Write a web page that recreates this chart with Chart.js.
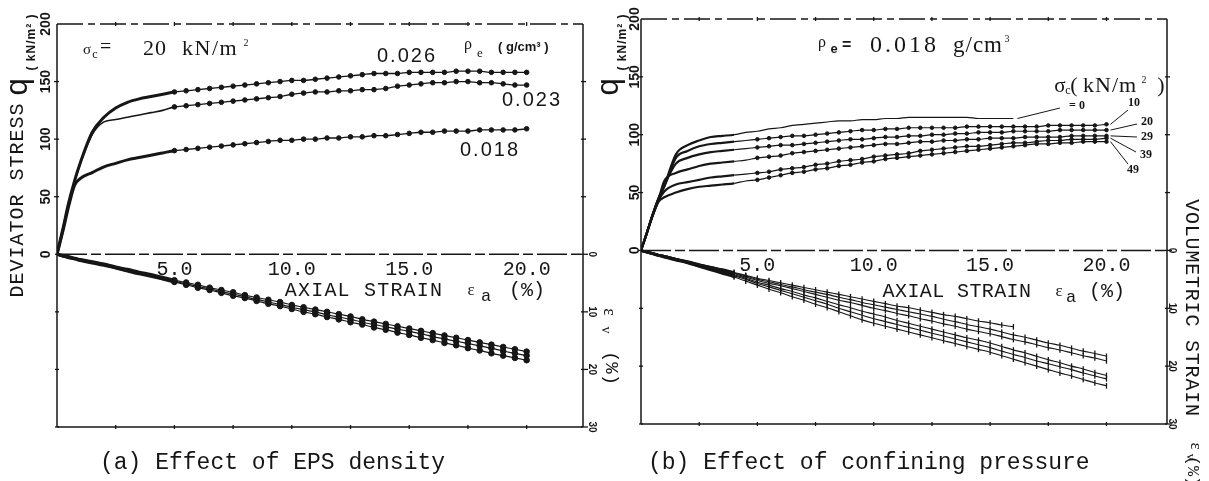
<!DOCTYPE html>
<html>
<head>
<meta charset="utf-8">
<script src="https://cdn.jsdelivr.net/npm/chart.js@4.4.1/dist/chart.umd.min.js"></script>
<style>
  html, body { margin: 0; padding: 0; background: #fff; }
  #wrap { position: relative; width: 1209px; height: 481px; overflow: hidden; background: #fff; }
  #wrap canvas { position: absolute; left: 0; top: 0; }
</style>
</head>
<body>
<div id="wrap">
  <canvas id="chartA" width="1209" height="481"></canvas>
  <canvas id="chartB" width="1209" height="481"></canvas>
</div>
<script>
const INK = '#161616';
const MONO = '"Liberation Mono", "DejaVu Sans Mono", monospace';
const SERIF = '"Liberation Serif", "DejaVu Serif", serif';
const SANS = '"Liberation Sans", "DejaVu Sans", sans-serif';

// axial strain (%) shared by every curve
const strain = [0, 0.25, 0.5, 0.75, 1, 1.5, 2, 2.5, 3, 3.5, 4, 4.5, 5, 5.5, 6, 6.5, 7, 7.5, 8, 8.5, 9, 9.5,
  10, 10.5, 11, 11.5, 12, 12.5, 13, 13.5, 14, 14.5, 15, 15.5, 16, 16.5, 17, 17.5, 18, 18.5, 19, 19.5, 20];
const qTicks = [0, 50, 100, 150, 200];
const evTicks = [0, 10, 20, 30];

// (a) effect of EPS density, sigma_c = 20 kN/m2
const densityLabels = ['0.026', '0.023', '0.018'];
const qA026 = [0, 22, 45, 64, 80, 106, 119, 127, 132, 135, 137, 139, 141, 142, 143, 144, 145, 146, 147, 148, 149, 150,
  151, 151, 152, 153, 154, 155, 156, 157, 157, 157, 158, 158, 158, 158, 159, 159, 159, 158, 158, 158, 158];
const qA023 = [0, 22, 44, 63, 79, 104, 115, 117, 119, 121, 123, 125, 128, 129, 130, 131, 132, 133, 134, 135, 136, 137,
  139, 140, 141, 141, 142, 142, 143, 143, 144, 146, 147, 148, 149, 149, 150, 150, 149, 149, 148, 147, 147];
const qA018 = [0, 20, 42, 60, 66, 71, 76, 79, 82, 84, 86, 88, 90, 91, 92, 93, 94, 95, 96, 97, 98, 99,
  99, 100, 100, 101, 101, 102, 102, 103, 103, 104, 105, 106, 106, 107, 107, 107, 108, 108, 108, 108, 109];
const evA026 = [0, 0.2, 0.4, 0.7, 0.9, 1.3, 1.7, 2.2, 2.6, 3.1, 3.5, 4.0, 4.5, 4.9, 5.3, 5.8, 6.2, 6.6, 7.1, 7.5, 7.9, 8.3,
  8.8, 9.2, 9.6, 10.0, 10.4, 10.8, 11.3, 11.7, 12.1, 12.5, 12.9, 13.3, 13.7, 14.1, 14.5, 14.9, 15.3, 15.7, 16.1, 16.5, 16.9];
const evA023 = [0, 0.3, 0.5, 0.8, 1.0, 1.4, 1.8, 2.3, 2.8, 3.2, 3.7, 4.2, 4.7, 5.1, 5.6, 6.0, 6.5, 6.9, 7.4, 7.8, 8.3, 8.7,
  9.2, 9.6, 10.0, 10.5, 10.9, 11.3, 11.8, 12.2, 12.6, 13.0, 13.4, 13.8, 14.3, 14.7, 15.1, 15.5, 15.9, 16.3, 16.8, 17.2, 17.6];
const evA018 = [0, 0.3, 0.6, 0.8, 1.1, 1.5, 1.9, 2.4, 2.9, 3.4, 3.8, 4.3, 4.8, 5.3, 5.8, 6.2, 6.7, 7.2, 7.6, 8.1, 8.6, 9.0,
  9.5, 10.0, 10.4, 10.9, 11.3, 11.8, 12.2, 12.7, 13.1, 13.6, 14.0, 14.5, 14.9, 15.4, 15.8, 16.3, 16.7, 17.2, 17.6, 18.0, 18.4];

// (b) effect of confining pressure, rho_e = 0.018 g/cm3
const pressureLabels = ['= 0', '10', '20', '29', '39', '49'];
const qB0 = [0, 15, 31, 45, 56, 83, 91, 95, 98, 99, 100, 102, 103, 105, 106, 108, 109, 110, 111, 112, 112, 113,
  113, 114, 114, 115, 115, 115, 115, 115, 115, 114, 114, 114, 114, null, null, null, null, null, null, null, null];
const qB10 = [0, 15, 31, 45, 55, 80, 86, 90, 92, 93, 94, 95, 96, 97, 98, 99, 99, 100, 101, 102, 103, 104,
  104, 105, 105, 106, 106, 106, 106, 106, 107, 107, 107, 107, 107, 107, 107, 108, 108, 108, 108, 108, 109];
const qB20 = [0, 15, 31, 44, 56, 75, 80, 83, 85, 86, 87, 88, 89, 90, 91, 91, 92, 93, 94, 95, 96, 96,
  97, 98, 98, 99, 99, 100, 100, 101, 101, 102, 102, 102, 103, 103, 103, 103, 104, 104, 104, 104, 104];
const qB29 = [0, 15, 30, 44, 60, 67, 70, 73, 75, 76, 77, 78, 80, 81, 82, 84, 85, 86, 87, 88, 89, 90,
  91, 92, 92, 93, 94, 94, 95, 95, 96, 96, 97, 97, 97, 98, 98, 98, 98, 99, 99, 99, 99];
const qB39 = [0, 15, 30, 43, 51, 57, 59, 61, 63, 64, 65, 66, 67, 68, 70, 71, 72, 74, 75, 77, 78, 79,
  81, 82, 83, 84, 86, 87, 88, 89, 90, 90, 91, 92, 93, 93, 94, 95, 95, 96, 96, 96, 97];
const qB49 = [0, 15, 30, 42, 46, 50, 53, 55, 56, 57, 58, 60, 61, 63, 65, 67, 68, 70, 71, 73, 74, 76,
  77, 79, 80, 81, 82, 83, 84, 85, 86, 87, 88, 89, 90, 91, 92, 92, 93, 93, 94, 94, 94];
const evB0 = [0, 0.3, 0.5, 0.8, 1.0, 1.5, 1.9, 2.4, 2.9, 3.3, 3.8, 4.3, 4.8, 5.2, 5.6, 6.0, 6.4, 6.8, 7.2, 7.6, 8.0, 8.4,
  8.8, 9.2, 9.6, 9.9, 10.3, 10.7, 11.1, 11.4, 11.8, 12.2, 12.5, 12.9, 13.2, null, null, null, null, null, null, null, null];
const evB10 = [0, 0.3, 0.5, 0.8, 1.0, 1.5, 2.0, 2.5, 2.9, 3.4, 3.9, 4.4, 5.0, 5.4, 5.9, 6.3, 6.8, 7.2, 7.6, 8.1, 8.5, 9.0,
  9.4, 9.8, 10.2, 10.6, 11.0, 11.4, 11.9, 12.3, 12.8, 13.2, 13.6, 14.1, 14.6, 15.0, 15.5, 16.0, 16.4, 16.9, 17.4, 17.8, 18.3];
const evB20 = [0, 0.3, 0.5, 0.8, 1.0, 1.5, 2.0, 2.5, 3.0, 3.5, 4.0, 4.6, 5.2, 5.7, 6.1, 6.6, 7.1, 7.6, 8.1, 8.6, 9.0, 9.5,
  10.0, 10.4, 10.9, 11.3, 11.8, 12.2, 12.7, 13.1, 13.6, 14.0, 14.4, 14.9, 15.4, 15.8, 16.3, 16.8, 17.2, 17.7, 18.2, 18.6, 19.1];
const evB29 = [0, 0.3, 0.6, 0.8, 1.1, 1.6, 2.1, 2.6, 3.1, 3.6, 4.2, 4.8, 5.5, 6.0, 6.6, 7.1, 7.7, 8.2, 8.8, 9.4, 9.9, 10.5,
  11.0, 11.5, 12.1, 12.6, 13.1, 13.6, 14.1, 14.6, 15.1, 15.5, 16.0, 16.6, 17.2, 17.7, 18.3, 18.9, 19.4, 20.0, 20.5, 21.1, 21.6];
const evB39 = [0, 0.3, 0.6, 0.9, 1.1, 1.6, 2.1, 2.7, 3.2, 3.8, 4.4, 5.0, 5.7, 6.3, 6.9, 7.5, 8.1, 8.7, 9.3, 10.0, 10.6, 11.2,
  11.8, 12.3, 12.8, 13.3, 13.8, 14.3, 14.8, 15.3, 15.8, 16.3, 16.8, 17.4, 18.0, 18.5, 19.1, 19.6, 20.1, 20.6, 21.2, 21.7, 22.2];
const evB49 = [0, 0.3, 0.6, 0.9, 1.2, 1.7, 2.2, 2.8, 3.4, 4.0, 4.6, 5.3, 6.0, 6.7, 7.3, 8.0, 8.6, 9.3, 9.9, 10.6, 11.3, 12.0,
  12.6, 13.1, 13.6, 14.1, 14.6, 15.1, 15.6, 16.1, 16.6, 17.1, 17.6, 18.2, 18.8, 19.4, 20.0, 20.6, 21.2, 21.7, 22.3, 22.9, 23.4];

function pts(vals) {
  return strain.map((x, i) => ({ x: x, y: vals[i] })).filter(p => p.y !== null);
}

// one black curve; thick up to `thick`, markers from `from` on
function curve(vals, axis, o) {
  return {
    data: pts(vals),
    yAxisID: axis,
    borderColor: INK,
    backgroundColor: INK,
    pointBorderColor: INK,
    pointBackgroundColor: INK,
    cubicInterpolationMode: 'monotone',
    pointStyle: o.style || 'circle',
    pointRotation: o.rot || 0,
    pointBorderWidth: o.pbw || 1,
    pointRadius: c => (strain[c.dataIndex] >= o.from ? o.r : 0),
    borderWidth: o.bw,
    segment: { borderWidth: c => (strain[c.p1DataIndex] <= o.thick ? o.tw : o.bw) }
  };
}

function txt(ctx, t) {
  ctx.save();
  ctx.translate(t.x, t.y);
  if (t.r) ctx.rotate(t.r * Math.PI / 180);
  ctx.font = t.f;
  ctx.fillStyle = INK;
  ctx.textAlign = t.a || 'center';
  ctx.textBaseline = t.b || 'middle';
  if ('letterSpacing' in ctx) ctx.letterSpacing = (t.ls || 0) + 'px';
  ctx.fillText(t.s, 0, 0);
  ctx.restore();
}

function seg(ctx, x1, y1, x2, y2) {
  ctx.beginPath();
  ctx.moveTo(x1, y1);
  ctx.lineTo(x2, y2);
  ctx.stroke();
}

// frame, zero line, small tick marks, rotated tick labels and annotations
function decor(p) {
  return {
    id: 'decor',
    beforeDatasetsDraw(chart) {
      const ctx = chart.ctx;
      const { left, right, top, bottom } = chart.chartArea;
      const sx = chart.scales.x, sy = chart.scales.y, sv = chart.scales.y2;
      const y0 = sy.getPixelForValue(0);
      ctx.save();
      ctx.strokeStyle = INK;
      ctx.lineWidth = 1.5;
      seg(ctx, left, top, left, bottom);
      seg(ctx, right, top, right, bottom);
      seg(ctx, left, bottom, right, bottom);
      ctx.setLineDash([26, 5, 7, 5]);
      seg(ctx, left, top, right, top);
      ctx.setLineDash([30, 4, 10, 4]);
      seg(ctx, left, y0, right, y0);
      ctx.setLineDash([]);
      ctx.lineWidth = 1.3;
      for (let v = 2.5; v <= 20; v += 2.5) {
        const px = sx.getPixelForValue(v);
        seg(ctx, px, top - 2, px, top + 2);
        seg(ctx, px, bottom - 2, px, bottom + 2);
      }
      qTicks.slice(1, 4).forEach(v => {
        const py = sy.getPixelForValue(v);
        seg(ctx, left - 3, py, left + 2, py);
        seg(ctx, right - 2, py, right + 3, py);
      });
      evTicks.forEach(v => {
        const py = sv.getPixelForValue(v);
        seg(ctx, left - 2, py, left + 2, py);
        seg(ctx, right - 2, py, right + 5, py);
      });
      ctx.restore();
    },
    afterDraw(chart) {
      const ctx = chart.ctx;
      const sy = chart.scales.y, sv = chart.scales.y2;
      qTicks.forEach(v => txt(ctx, { s: String(v), x: p.qLabX, y: sy.getPixelForValue(v), f: 'bold 14px ' + SANS, r: -90 }));
      evTicks.forEach(v => txt(ctx, { s: String(v), x: p.evLabX, y: sv.getPixelForValue(v), f: 'bold 10px ' + SANS, r: 90 }));
      p.texts.forEach(t => txt(ctx, t));
      if (p.leaders) {
        ctx.save();
        ctx.strokeStyle = INK;
        ctx.lineWidth = 1;
        p.leaders.forEach(l => {
          const pts = chart.getDatasetMeta(l.ds).data;
          const last = pts[pts.length - 1];
          seg(ctx, last.x + 4, last.y, l.x, l.y);
        });
        ctx.restore();
      }
    }
  };
}

function scales(pad, xmax, leftW, rightW) {
  return {
    x: {
      type: 'linear', min: 0, max: xmax,
      position: { y: 0 },
      grid: { display: false, drawTicks: false },
      border: { display: false },
      ticks: {
        stepSize: 5, includeBounds: false, autoSkip: false, maxRotation: 0, padding: pad,
        color: INK, font: { family: MONO, size: 20 },
        callback: v => (v === 0 ? '' : v.toFixed(1))
      }
    },
    y: {
      type: 'linear', position: 'left', min: -150, max: 200,
      grid: { display: false }, border: { display: false }, ticks: { display: false },
      afterBuildTicks: s => { s.ticks = qTicks.map(v => ({ value: v })); },
      afterFit: s => { s.width = leftW; }
    },
    y2: {
      type: 'linear', position: 'right', min: -40, max: 30, reverse: true,
      grid: { display: false }, border: { display: false }, ticks: { display: false },
      afterBuildTicks: s => { s.ticks = evTicks.map(v => ({ value: v })); },
      afterFit: s => { s.width = rightW; }
    }
  };
}

const base = {
  responsive: false,
  animation: false,
  devicePixelRatio: 1,
  events: [],
  plugins: { legend: { display: false }, tooltip: { enabled: false } }
};

const qStyle = { from: 5, r: 2.3, bw: 1.3, tw: 3, thick: 5 };
const evStyleA = { from: 5, r: 2.8, bw: 1.2, tw: 3, thick: 5 };

new Chart(document.getElementById('chartA'), {
  type: 'line',
  data: {
    datasets: [
      curve(qA026, 'y', qStyle),
      curve(qA023, 'y', Object.assign({}, qStyle, { tw: 1.6 })),
      curve(qA018, 'y', qStyle),
      curve(evA026, 'y2', evStyleA),
      curve(evA023, 'y2', evStyleA),
      curve(evA018, 'y2', evStyleA)
    ]
  },
  options: Object.assign({}, base, {
    layout: { padding: { left: 0, right: 609, top: 24, bottom: 54 } },
    scales: scales(3, 22.4, 57, 17)
  }),
  plugins: [decor({
    qLabX: 46, evLabX: 592,
    texts: [
      { s: 'DEVIATOR STRESS', x: 23, y: 200, f: '20px ' + MONO, r: -90, b: 'alphabetic', ls: 1 },
      { s: 'q', x: 27, y: 87, f: '31px ' + SANS, r: -90, b: 'alphabetic' },
      { s: '( kN/m² )', x: 35, y: 42, f: 'bold 12px ' + SANS, r: -90, b: 'alphabetic', ls: 1 },
      { s: 'ε', x: 609, y: 312, f: '18px ' + SERIF, r: 90 },
      { s: 'v', x: 606, y: 330, f: '14px ' + SERIF, r: 90 },
      { s: '(%)', x: 611, y: 368, f: '19px ' + MONO, r: 90 },
      { s: 'AXIAL STRAIN', x: 364, y: 291, f: '20px ' + MONO, ls: 1.2 },
      { s: 'ε', x: 471, y: 291, f: '17px ' + SERIF },
      { s: 'a', x: 486, y: 296, f: '17px ' + MONO },
      { s: '(%)', x: 527, y: 291, f: '20px ' + MONO },
      { s: 'σ', x: 87, y: 50, f: '15px ' + SERIF },
      { s: 'c', x: 95, y: 55, f: '12px ' + SERIF },
      { s: '=', x: 100, y: 48, f: '20px ' + SERIF, a: 'left' },
      { s: '20', x: 143, y: 49, f: '22px ' + SERIF, a: 'left', ls: 1 },
      { s: 'kN/m', x: 182, y: 49, f: '22px ' + SERIF, a: 'left', ls: 1.5 },
      { s: '2', x: 246, y: 43, f: '10px ' + SERIF },
      { s: densityLabels[0], x: 377, y: 56, f: '20px ' + SANS, a: 'left', ls: 2 },
      { s: 'ρ', x: 468, y: 45, f: '16px ' + SERIF },
      { s: 'e', x: 480, y: 54, f: '13px ' + SERIF },
      { s: '( g/cm³ )', x: 498, y: 47, f: 'bold 13px ' + SANS, a: 'left' },
      { s: densityLabels[1], x: 502, y: 100, f: '20px ' + SANS, a: 'left', ls: 2 },
      { s: densityLabels[2], x: 460, y: 150, f: '20px ' + SANS, a: 'left', ls: 2 },
      { s: '(a) Effect of EPS density', x: 100, y: 463, f: '23px ' + MONO, a: 'left' }
    ]
  })]
});

const qStyleB = { from: 5, r: 1.8, bw: 1.2, tw: 2.2, thick: 4 };
const evStyleB = { from: 4, r: 2.8, bw: 1.1, tw: 2.4, thick: 4, style: 'line', rot: 90, pbw: 1.3 };

new Chart(document.getElementById('chartB'), {
  type: 'line',
  data: {
    datasets: [
      curve(qB0, 'y', Object.assign({}, qStyleB, { r: 0 })),
      curve(qB10, 'y', qStyleB),
      curve(qB20, 'y', qStyleB),
      curve(qB29, 'y', qStyleB),
      curve(qB39, 'y', qStyleB),
      curve(qB49, 'y', qStyleB),
      curve(evB0, 'y2', evStyleB),
      curve(evB10, 'y2', evStyleB),
      curve(evB20, 'y2', evStyleB),
      curve(evB29, 'y2', evStyleB),
      curve(evB39, 'y2', evStyleB),
      curve(evB49, 'y2', evStyleB)
    ]
  },
  options: Object.assign({}, base, {
    layout: { padding: { left: 600, right: 0, top: 19, bottom: 57 } },
    scales: scales(3, 22.6, 41, 42)
  }),
  plugins: [decor({
    qLabX: 635, evLabX: 1172,
    leaders: [
      { ds: 0, x: 1060, y: 108 },
      { ds: 1, x: 1128, y: 110 },
      { ds: 2, x: 1137, y: 124 },
      { ds: 3, x: 1137, y: 137 },
      { ds: 4, x: 1136, y: 152 },
      { ds: 5, x: 1128, y: 164 }
    ],
    texts: [
      { s: 'q', x: 618, y: 87, f: '31px ' + SANS, r: -90, b: 'alphabetic' },
      { s: '( kN/m² )', x: 626, y: 42, f: 'bold 12px ' + SANS, r: -90, b: 'alphabetic', ls: 1 },
      { s: 'ρ', x: 822, y: 43, f: '16px ' + SERIF },
      { s: 'e', x: 834, y: 49, f: 'bold 13px ' + SANS },
      { s: '=', x: 842, y: 46, f: 'bold 16px ' + SANS, a: 'left' },
      { s: '0.018', x: 870, y: 46, f: '24px ' + SERIF, a: 'left', ls: 3 },
      { s: 'g/cm', x: 953, y: 46, f: '23px ' + SERIF, a: 'left', ls: 1 },
      { s: '3', x: 1007, y: 39, f: '10px ' + SERIF },
      { s: 'σ', x: 1060, y: 86, f: '21px ' + SERIF },
      { s: 'c', x: 1068, y: 91, f: '12px ' + SERIF },
      { s: '(', x: 1074, y: 86, f: '22px ' + SERIF },
      { s: 'kN/m', x: 1083, y: 86, f: '22px ' + SERIF, a: 'left', ls: 1 },
      { s: '2', x: 1144, y: 80, f: '10px ' + SERIF },
      { s: ')', x: 1161, y: 86, f: '22px ' + SERIF },
      { s: pressureLabels[0], x: 1077, y: 106, f: 'bold 12px ' + SERIF },
      { s: pressureLabels[1], x: 1134, y: 103, f: 'bold 12px ' + SERIF },
      { s: pressureLabels[2], x: 1147, y: 122, f: 'bold 12px ' + SERIF },
      { s: pressureLabels[3], x: 1147, y: 137, f: 'bold 12px ' + SERIF },
      { s: pressureLabels[4], x: 1146, y: 155, f: 'bold 12px ' + SERIF },
      { s: pressureLabels[5], x: 1133, y: 170, f: 'bold 12px ' + SERIF },
      { s: 'AXIAL STRAIN', x: 957, y: 292, f: '20px ' + MONO, ls: 0.4 },
      { s: 'ε', x: 1059, y: 292, f: '17px ' + SERIF },
      { s: 'a', x: 1071, y: 297, f: '17px ' + MONO },
      { s: '(%)', x: 1107, y: 292, f: '20px ' + MONO },
      { s: 'VOLUMETRIC STRAIN', x: 1186, y: 308, f: '20px ' + MONO, r: 90, b: 'alphabetic', ls: 0.8 },
      { s: 'ε', x: 1195, y: 446, f: '17px ' + SERIF, r: 90 },
      { s: 'v', x: 1190, y: 457, f: '13px ' + SERIF, r: 90 },
      { s: '(%)', x: 1192, y: 471, f: '17px ' + MONO, r: 90 },
      { s: '(b) Effect of confining pressure', x: 648, y: 463, f: '23px ' + MONO, a: 'left' }
    ]
  })]
});
</script>
</body>
</html>
